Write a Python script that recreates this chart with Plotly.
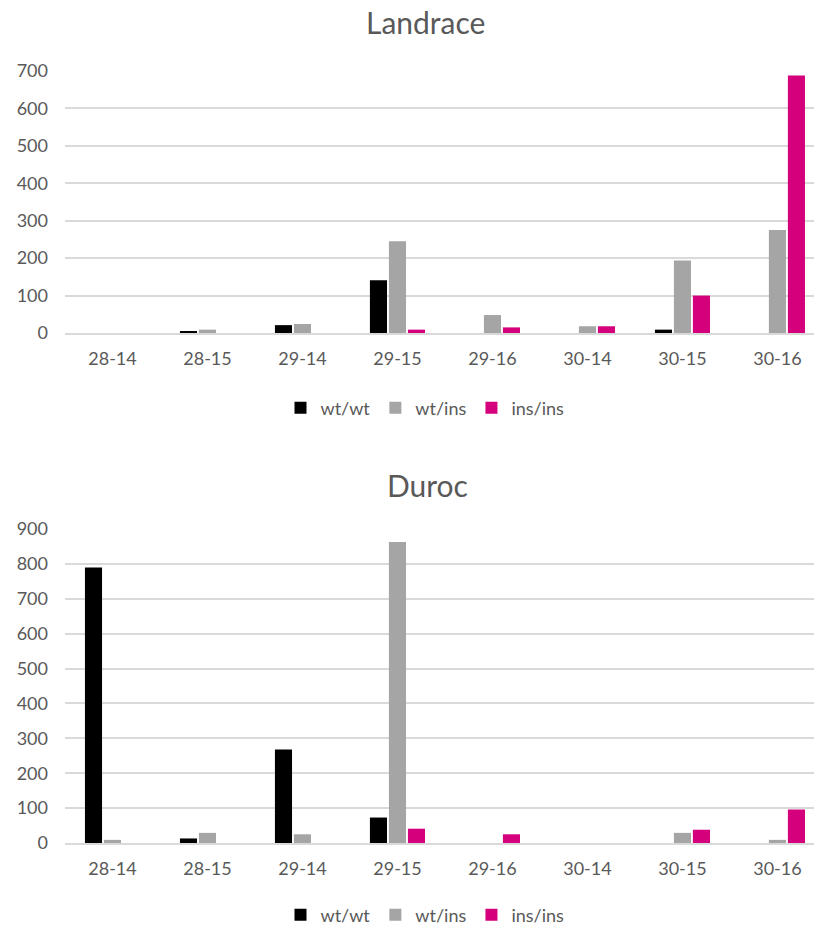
import plotly.graph_objects as go

# Genotype counts per haplotype combination
categories = ["28-14", "28-15", "29-14", "29-15", "29-16", "30-14", "30-15", "30-16"]
series_names = ["wt/wt", "wt/ins", "ins/ins"]
colors = ["#000000", "#A5A5A5", "#D5007C"]

landrace_wt_wt = [0, 5, 21, 141, 0, 0, 9, 0]
landrace_wt_ins = [0, 9, 24, 245, 48, 18, 194, 275]
landrace_ins_ins = [0, 0, 0, 9, 15, 18, 100, 688]

duroc_wt_wt = [790, 13, 268, 73, 0, 0, 0, 0]
duroc_wt_ins = [9, 29, 25, 863, 0, 0, 29, 9]
duroc_ins_ins = [0, 0, 0, 41, 25, 0, 38, 96]

landrace_ticks = [0, 100, 200, 300, 400, 500, 600, 700]
duroc_ticks = [0, 100, 200, 300, 400, 500, 600, 700, 800, 900]

W, H = 814, 927
FONT = "Lato"
TXT = "#595959"
GRID = "#D9D9D9"

fig = go.Figure()

for vals, name, col in zip([landrace_wt_wt, landrace_wt_ins, landrace_ins_ins], series_names, colors):
    fig.add_trace(go.Bar(x=categories, y=vals, name=name, marker_color=col,
                         marker_line_width=0, xaxis="x", yaxis="y", legend="legend"))

for vals, name, col in zip([duroc_wt_wt, duroc_wt_ins, duroc_ins_ins], series_names, colors):
    fig.add_trace(go.Bar(x=categories, y=vals, name=name, marker_color=col,
                         marker_line_width=0, xaxis="x2", yaxis="y2", legend="legend2"))

def py(px):
    return 1 - px / H

x_dom = [65 / W, 1.0]
x_range = [-0.5, 7.385]

xcommon = dict(
    type="category", range=x_range, domain=x_dom,
    showgrid=False, showline=True, linecolor=GRID, linewidth=1.5,
    ticks="", tickfont=dict(family=FONT, size=18, color=TXT),
    ticklabelstandoff=9, fixedrange=True,
)
ycommon = dict(
    showgrid=True, gridcolor=GRID, gridwidth=1.5, zeroline=False,
    showline=False, ticks="", tickfont=dict(family=FONT, size=18, color=TXT),
    ticklabelstandoff=16, fixedrange=True,
)

fig.update_layout(
    width=W, height=H,
    margin=dict(l=0, r=0, t=0, b=0, autoexpand=False),
    paper_bgcolor="white", plot_bgcolor="white",
    barmode="group", bargap=0.4, bargroupgap=0.1,
    xaxis=dict(**xcommon, anchor="y"),
    yaxis=dict(**ycommon, domain=[py(333), py(71)], range=[0, 700],
               tickvals=landrace_ticks, anchor="x"),
    xaxis2=dict(**xcommon, anchor="y2"),
    yaxis2=dict(**ycommon, domain=[py(843), py(529)], range=[0, 900],
                tickvals=duroc_ticks, anchor="x2"),
    legend=dict(orientation="h", x=425 / W, xanchor="center", y=py(408), yanchor="middle",
                font=dict(family=FONT, size=18, color=TXT), itemwidth=30,
                bgcolor="rgba(0,0,0,0)"),
    legend2=dict(orientation="h", x=425 / W, xanchor="center", y=py(915), yanchor="middle",
                 font=dict(family=FONT, size=18, color=TXT), itemwidth=30,
                 bgcolor="rgba(0,0,0,0)"),
    annotations=[
        dict(text="Landrace", x=425 / W, y=py(22), xref="paper", yref="paper",
             xanchor="center", yanchor="middle", showarrow=False,
             font=dict(family=FONT, size=30, color=TXT)),
        dict(text="Duroc", x=427 / W, y=py(485), xref="paper", yref="paper",
             xanchor="center", yanchor="middle", showarrow=False,
             font=dict(family=FONT, size=30, color=TXT)),
    ],
)

fig.write_html("out.html")
